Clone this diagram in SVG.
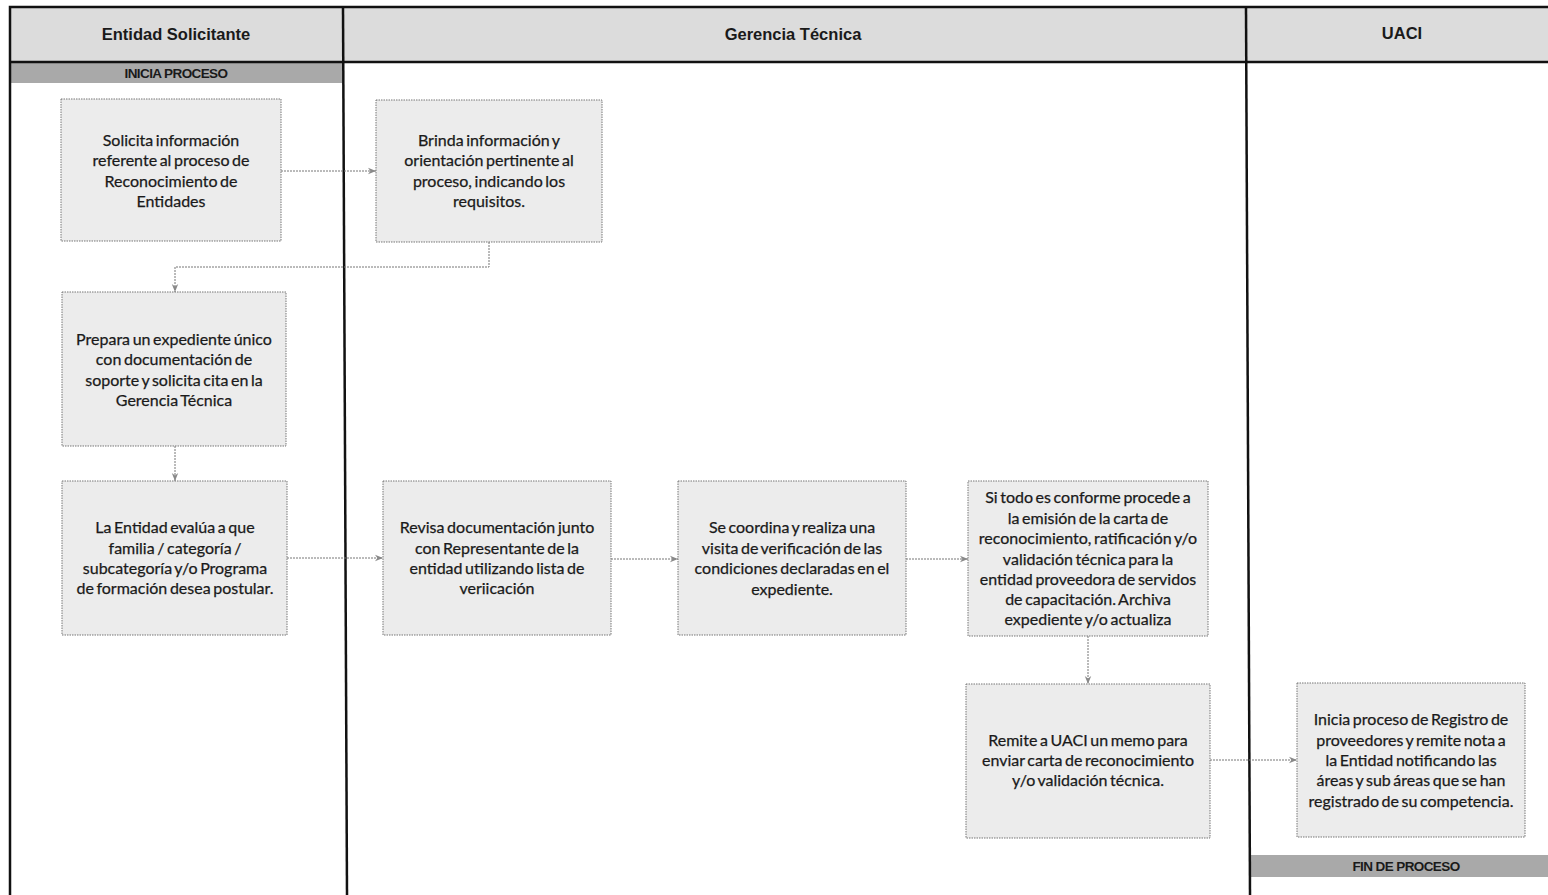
<svg xmlns="http://www.w3.org/2000/svg" width="1548" height="895" viewBox="0 0 1548 895">
<style>
.hdr{fill:#dcdcdc}
.hdrt{font-family:"Liberation Sans",Arial,sans-serif;font-weight:bold;font-size:16.5px;fill:#1a1a1a;text-anchor:middle}
.bar{fill:#a9a9a9}
.bart{font-family:"Liberation Sans Narrow","Liberation Sans",Arial,sans-serif;font-weight:bold;font-size:13.5px;fill:#1a1a1a;text-anchor:middle;letter-spacing:-0.6px}
.lane{stroke:#111;stroke-width:2.5;fill:none}
.box{fill:#ececec;stroke:#777;stroke-width:1;stroke-dasharray:1.5 1}
.t{font-family:Lato,"Open Sans",sans-serif;font-size:16px;word-spacing:-1.5px;fill:#1a1a1a;stroke:#1a1a1a;stroke-width:0.25;text-anchor:middle}
.c{stroke:#777;stroke-width:1;stroke-dasharray:2 1;fill:none;marker-end:url(#ah)}
</style>
<defs>
<marker id="ah" viewBox="0 0 10 10" refX="10" refY="5" markerWidth="8" markerHeight="8" markerUnits="userSpaceOnUse" orient="auto">
<path d="M0,1 L10,5 L0,9 L3,5 Z" fill="#888"/>
</marker>
</defs>
<rect width="1548" height="895" fill="#fff"/>

<g id="lanes">
<rect class="hdr" x="10" y="7" width="1540" height="55"/>
<rect class="bar" x="11" y="63" width="331" height="20"/>
<rect class="bar" x="1250" y="855" width="298" height="22"/>
<path class="lane" d="M1550,7 H10 V895"/>
<path class="lane" d="M10,62 H1550"/>
<path class="lane" d="M343,7 L347,895"/>
<path class="lane" d="M1246,7 L1250,895"/>
<text class="hdrt" x="176" y="40">Entidad Solicitante</text>
<text class="hdrt" x="793" y="40">Gerencia Técnica</text>
<text class="hdrt" x="1402" y="39">UACI</text>
<text class="bart" x="176" y="78">INICIA PROCESO</text>
<text class="bart" x="1406" y="871">FIN DE PROCESO</text>
</g>

<g id="connectors">
<path class="c" d="M281,171 H376"/>
<path class="c" d="M489,242 V267 H175 V292"/>
<path class="c" d="M175,446 V481"/>
<path class="c" d="M287,558 H383"/>
<path class="c" d="M611,559 H678"/>
<path class="c" d="M906,559 H968"/>
<path class="c" d="M1088,636 V684"/>
<path class="c" d="M1210,760 H1297"/>
</g>

<g id="n1">
<rect class="box" x="61" y="99" width="220" height="142"/>
<text class="t"><tspan x="171" y="146">Solicita información</tspan><tspan x="171" y="166">referente al proceso de</tspan><tspan x="171" y="187">Reconocimiento de</tspan><tspan x="171" y="207">Entidades</tspan></text>
</g>
<g id="n2">
<rect class="box" x="376" y="100" width="226" height="142"/>
<text class="t"><tspan x="489" y="146">Brinda información y</tspan><tspan x="489" y="166">orientación pertinente al</tspan><tspan x="489" y="187">proceso, indicando los</tspan><tspan x="489" y="207">requisitos.</tspan></text>
</g>
<g id="n3">
<rect class="box" x="62" y="292" width="224" height="154"/>
<text class="t"><tspan x="174" y="345">Prepara un expediente único</tspan><tspan x="174" y="365">con documentación de</tspan><tspan x="174" y="386">soporte y solicita cita en la</tspan><tspan x="174" y="406">Gerencia Técnica</tspan></text>
</g>
<g id="n4">
<rect class="box" x="62" y="481" width="225" height="154"/>
<text class="t"><tspan x="175" y="533">La Entidad evalúa a que</tspan><tspan x="175" y="554">familia / categoría /</tspan><tspan x="175" y="574">subcategoría y/o Programa</tspan><tspan x="175" y="594">de formación desea postular.</tspan></text>
</g>
<g id="n5">
<rect class="box" x="383" y="481" width="228" height="154"/>
<text class="t"><tspan x="497" y="533">Revisa documentación junto</tspan><tspan x="497" y="554">con Representante de la</tspan><tspan x="497" y="574">entidad utilizando lista de</tspan><tspan x="497" y="594">veriicación</tspan></text>
</g>
<g id="n6">
<rect class="box" x="678" y="481" width="228" height="154"/>
<text class="t"><tspan x="792" y="533">Se coordina y realiza una</tspan><tspan x="792" y="554">visita de verificación de las</tspan><tspan x="792" y="574">condiciones declaradas en el</tspan><tspan x="792" y="595">expediente.</tspan></text>
</g>
<g id="n7">
<rect class="box" x="968" y="481" width="240" height="155"/>
<text class="t"><tspan x="1088" y="503">Si todo es conforme procede a</tspan><tspan x="1088" y="524">la emisión de la carta de</tspan><tspan x="1088" y="544">reconocimiento, ratificación y/o</tspan><tspan x="1088" y="565">validación técnica para la</tspan><tspan x="1088" y="585">entidad proveedora de servidos</tspan><tspan x="1088" y="605">de capacitación. Archiva</tspan><tspan x="1088" y="625">expediente y/o actualiza</tspan></text>
</g>
<g id="n8">
<rect class="box" x="966" y="684" width="244" height="154"/>
<text class="t"><tspan x="1088" y="746">Remite a UACI un memo para</tspan><tspan x="1088" y="766">enviar  carta de reconocimiento</tspan><tspan x="1088" y="786">y/o validación técnica.</tspan></text>
</g>
<g id="n9">
<rect class="box" x="1297" y="683" width="228" height="154"/>
<text class="t"><tspan x="1411" y="725">Inicia proceso de Registro de</tspan><tspan x="1411" y="746">proveedores y remite nota a</tspan><tspan x="1411" y="766">la Entidad notificando las</tspan><tspan x="1411" y="786">áreas y sub áreas que se han</tspan><tspan x="1411" y="807">registrado de su competencia.</tspan></text>
</g>
</svg>
